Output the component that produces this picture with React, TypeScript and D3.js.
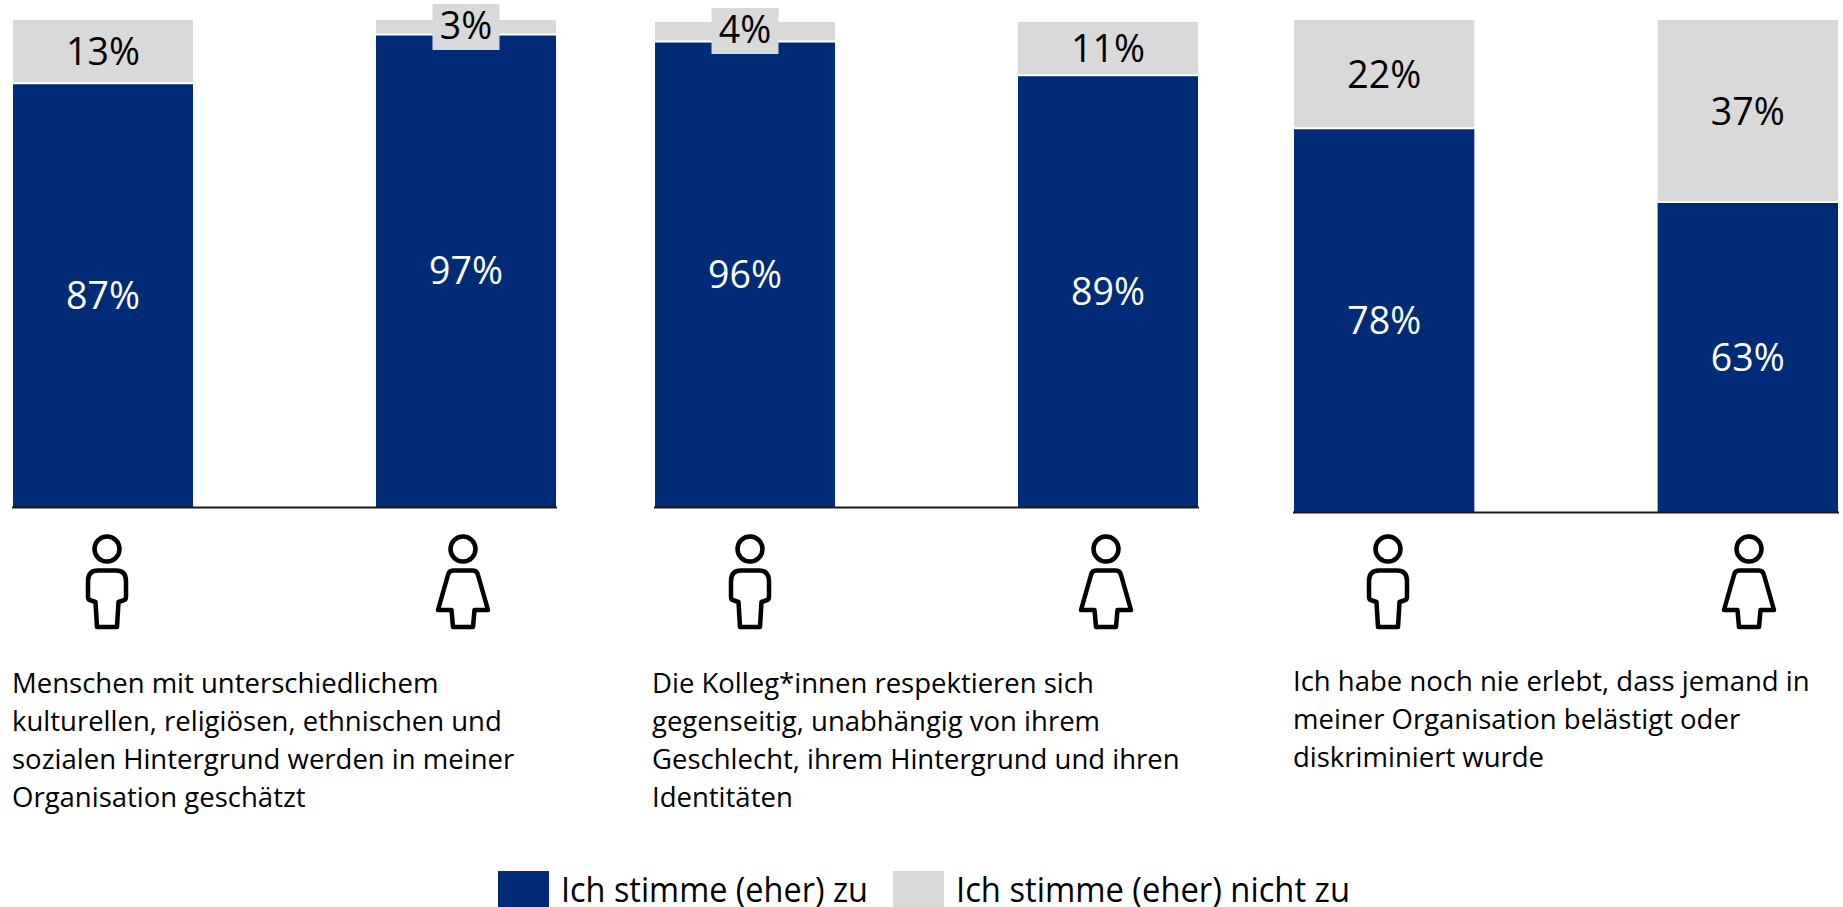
import React from "react";
import * as d3 from "d3";

const groups = ["Männer", "Frauen"];
const agreeP1 = [87, 97];
const agreeP2 = [96, 89];
const agreeP3 = [78, 63];
const disagreeP1 = [13, 3];
const disagreeP2 = [4, 11];
const disagreeP3 = [22, 37];
const textP1 = ["Menschen mit unterschiedlichem", "kulturellen, religiösen, ethnischen und", "sozialen Hintergrund werden in meiner", "Organisation geschätzt"];
const textP2 = ["Die Kolleg*innen respektieren sich", "gegenseitig, unabhängig von ihrem", "Geschlecht, ihrem Hintergrund und ihren", "Identitäten"];
const textP3 = ["Ich habe noch nie erlebt, dass jemand in", "meiner Organisation belästigt oder", "diskriminiert wurde"];
const legendLabels = ["Ich stimme (eher) zu", "Ich stimme (eher) nicht zu"];

const BLUE = "#002c77";
const GREY = "#d9d9d9";
const FONT = "'Open Sans', Lato, sans-serif";

const panels = [
  { agree: agreeP1, disagree: disagreeP1, text: textP1, x0: 13, x1: 556, top: 20, base: 507, textX: 12, textY: 693, icons: [107, 463], boxOffset: 7 },
  { agree: agreeP2, disagree: disagreeP2, text: textP2, x0: 655, x1: 1198, top: 22, base: 507, textX: 652, textY: 693, icons: [750, 1106], boxOffset: 9 },
  { agree: agreeP3, disagree: disagreeP3, text: textP3, x0: 1294, x1: 1838, top: 20, base: 512, textX: 1293, textY: 691, icons: [1388, 1749], boxOffset: 7 },
];

const malePath = "M-9,570.5 H9 Q19,570.5 19,581 V597 Q19,600 16,600.5 L11.5,602 L10,627 H-10 L-11.5,602 L-16,600.5 Q-19,600 -19,597 V581 Q-19,570.5 -9,570.5 Z";
const femalePath = "M-10,570.5 H10 Q14,570.5 15,575 L25,610 H11.5 L10,627 H-10 L-11.5,610 H-25 L-15,575 Q-14,570.5 -10,570.5 Z";

function Panel({ p }: { p: (typeof panels)[number] }) {
  const x = d3.scaleBand<string>().domain(groups).range([p.x0, p.x1]).paddingInner(0.504);
  const y = d3.scaleLinear().domain([0, 100]).range([p.base, p.top]);
  return (
    <g>
      {groups.map((g, i) => {
        const bx = x(g)!;
        const w = x.bandwidth();
        const cx = bx + w / 2;
        const a = p.agree[i];
        const d = p.disagree[i];
        const small = d < 5;
        const labelY = small ? p.top + p.boxOffset - 1.5 : (y(a) + y(a + d)) / 2;
        return (
          <g key={g}>
            <rect x={bx} y={y(a)} width={w} height={y(0) - y(a)} fill={BLUE} />
            <rect x={bx} y={y(a + d)} width={w} height={y(a) - y(a + d)} fill={GREY} />
            <line x1={bx} x2={bx + w} y1={y(a)} y2={y(a)} stroke="#fff" strokeWidth={2} />
            <text x={cx} y={(y(0) + y(a)) / 2} dy="0.36em" textAnchor="middle" fontSize={37.5} fontFamily={FONT} fill="#fff">{a}%</text>
            {small && <rect x={cx - 33.5} y={p.top + p.boxOffset - 23} width={67} height={46} fill={GREY} />}
            <text x={cx} y={labelY} dy="0.36em" textAnchor="middle" fontSize={37.5} fontFamily={FONT} fill="#000">{d}%</text>
          </g>
        );
      })}
      <line x1={p.x0 - 1} x2={p.x1 + 1} y1={p.base + 0.5} y2={p.base + 0.5} stroke="#1a1a1a" strokeWidth={2} />
      {p.icons.map((ix, i) => (
        <g key={ix} transform={`translate(${ix},0)`} fill="none" stroke="#000" strokeWidth={4.5} strokeLinejoin="round">
          <circle cx={0} cy={549} r={12.5} />
          <path d={i === 0 ? malePath : femalePath} />
        </g>
      ))}
      {p.text.map((t, i) => (
        <text key={t} x={p.textX} y={p.textY + i * 38} fontSize={27.5} fontFamily={FONT} fill="#000">{t}</text>
      ))}
    </g>
  );
}

export default function App() {
  const legend = [
    { label: legendLabels[0], color: BLUE, sx: 498, tx: 561, len: 307 },
    { label: legendLabels[1], color: GREY, sx: 893, tx: 956, len: 394 },
  ];
  return (
    <svg width={1843} height={907} style={{ position: "absolute", left: 0, top: 0, background: "#fff" }}>
      {panels.map((p, i) => <Panel key={i} p={p} />)}
      {legend.map((l) => (
        <g key={l.label}>
          <rect x={l.sx} y={871} width={51} height={36} fill={l.color} />
          <text x={l.tx} y={902} fontSize={34} fontFamily={FONT} fill="#000" textLength={l.len} lengthAdjust="spacingAndGlyphs">{l.label}</text>
        </g>
      ))}
    </svg>
  );
}
